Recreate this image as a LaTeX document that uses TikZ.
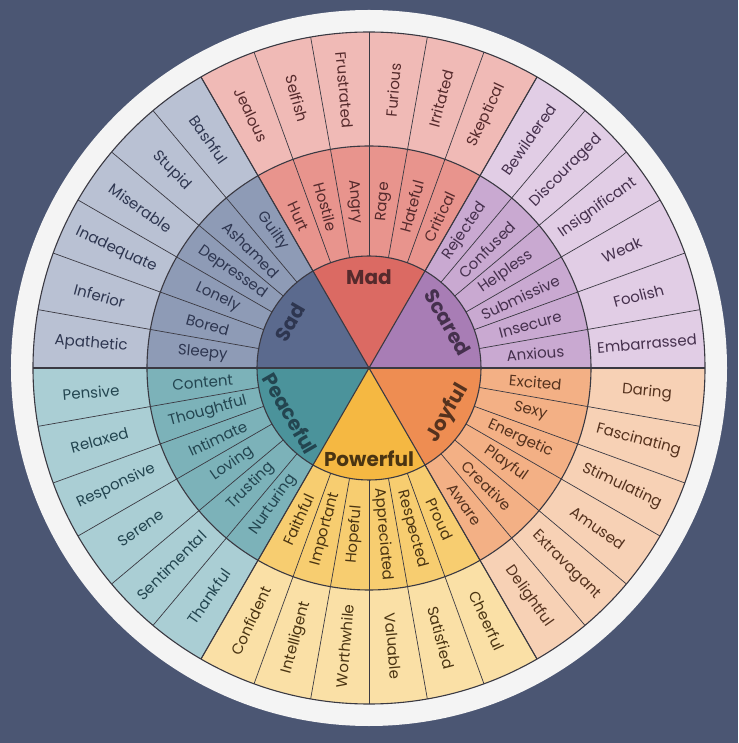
\documentclass[tikz,border=0pt]{standalone}
\usepackage{fontspec}
\setmainfont{Poppins}
\usetikzlibrary{positioning}

\definecolor{backdrop}{HTML}{4B5673}
\definecolor{rim}{HTML}{F4F4F4}
\definecolor{edge}{HTML}{3A3942}

\definecolor{scaredCore}{HTML}{A87DB5}
\definecolor{scaredMid}{HTML}{C9A9D1}
\definecolor{scaredOut}{HTML}{E1CDE5}
\definecolor{scaredInk}{HTML}{45304D}

\definecolor{madCore}{HTML}{DB6A63}
\definecolor{madMid}{HTML}{E8948D}
\definecolor{madOut}{HTML}{F0BAB6}
\definecolor{madInk}{HTML}{552A2C}

\definecolor{sadCore}{HTML}{5B6A8E}
\definecolor{sadMid}{HTML}{8E9BB6}
\definecolor{sadOut}{HTML}{B9C1D3}
\definecolor{sadInk}{HTML}{2E3650}

\definecolor{peacefulCore}{HTML}{4B939B}
\definecolor{peacefulMid}{HTML}{7CB2B9}
\definecolor{peacefulOut}{HTML}{AACED4}
\definecolor{peacefulInk}{HTML}{234550}

\definecolor{powerfulCore}{HTML}{F5B842}
\definecolor{powerfulMid}{HTML}{F7CD70}
\definecolor{powerfulOut}{HTML}{FAE0A6}
\definecolor{powerfulInk}{HTML}{4A3412}

\definecolor{joyfulCore}{HTML}{EE8D52}
\definecolor{joyfulMid}{HTML}{F3B085}
\definecolor{joyfulOut}{HTML}{F7D1B5}
\definecolor{joyfulInk}{HTML}{55321E}

\begin{document}
\begin{tikzpicture}[
    x=1pt, y=1pt,
    ring/.style={
        draw=edge,
        line width=1.1pt
    },
    divider/.style={
        draw=edge,
        line width=0.7pt
    },
    word/.style={
        inner sep=0pt,
        font=\fontsize{15}{15}\selectfont
    },
    corelabel/.style={
        inner sep=0pt,
        font=\fontsize{20}{20}\selectfont\bfseries
    }
]

\fill[backdrop] (-369,-375) rectangle (369,368);
\fill[rim] (0,0) circle (358);

\foreach \s/\t/\name/\mids/\outs in {
    0/scared/Scared/{Anxious,Insecure,Submissive,Helpless,Confused,Rejected}/{Embarrassed,Foolish,Weak,Insignificant,Discouraged,Bewildered},
    60/mad/Mad/{Critical,Hateful,Rage,Angry,Hostile,Hurt}/{Skeptical,Irritated,Furious,Frustrated,Selfish,Jealous},
    120/sad/Sad/{Guilty,Ashamed,Depressed,Lonely,Bored,Sleepy}/{Bashful,Stupid,Miserable,Inadequate,Inferior,Apathetic},
    180/peaceful/Peaceful/{Content,Thoughtful,Intimate,Loving,Trusting,Nurturing}/{Pensive,Relaxed,Responsive,Serene,Sentimental,Thankful},
    240/powerful/Powerful/{Faithful,Important,Hopeful,Appreciated,Respected,Proud}/{Confident,Intelligent,Worthwhile,Valuable,Satisfied,Cheerful},
    300/joyful/Joyful/{Aware,Creative,Playful,Energetic,Sexy,Excited}/{Delightful,Extravagant,Amused,Stimulating,Fascinating,Daring}} {
    \fill[\t Out] (0,0) -- (\s:336) arc[start angle=\s, delta angle=60, radius=336] -- cycle;
    \fill[\t Mid] (0,0) -- (\s:222) arc[start angle=\s, delta angle=60, radius=222] -- cycle;
    \fill[\t Core] (0,0) -- (\s:112) arc[start angle=\s, delta angle=60, radius=112] -- cycle;
    \foreach \w [count=\k from 0] in \mids {
        \pgfmathsetmacro\a{\s+5+10*\k}
        \pgfmathsetmacro\r{\a-180*(\a>90)*(\a<270)}
        \node[word, text=\t Ink, rotate=\r] (\t-mid-\k) at (\a:167) {\w};
    }
    \foreach \w [count=\k from 0] in \outs {
        \pgfmathsetmacro\a{\s+5+10*\k}
        \pgfmathsetmacro\r{\a-180*(\a>90)*(\a<270)}
        \node[word, text=\t Ink, rotate=\r] (\t-out-\k) at (\a:279) {\w};
    }
    \pgfmathsetmacro\a{\s+30}
    \pgfmathsetmacro\r{\a<180 ? \a-90 : \a-270}
    \node[corelabel, text=\t Ink, rotate=\r] (\t) at (\a:91) {\name};
}

\foreach \a in {0,10,...,350}
    \draw[divider] (\a:112) -- (\a:336);
\foreach \a in {0,60,...,300}
    \draw[ring] (0,0) -- (\a:336);
\draw[ring] (0,0) circle (112);
\draw[ring] (0,0) circle (222);
\draw[ring] (0,0) circle (336);

\end{tikzpicture}
\end{document}
